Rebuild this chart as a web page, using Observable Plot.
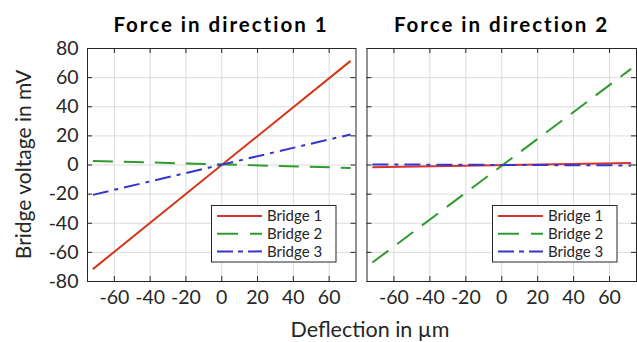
<!DOCTYPE html>
<html>
<head>
<meta charset="utf-8">
<script src="https://cdn.jsdelivr.net/npm/d3@7"></script>
<script src="https://cdn.jsdelivr.net/npm/@observablehq/plot@0.6"></script>
<style>
  html, body { margin: 0; padding: 0; background: #fff; }
  #wrap { position: relative; width: 637px; height: 342px; overflow: hidden; font-family: Lato, sans-serif; }
  #wrap > svg, #wrap > figure { position: absolute; top: 0; }
</style>
</head>
<body>
<div id="wrap"></div>
<script>
// ---- data ----
const seriesNames = ["Bridge 1", "Bridge 2", "Bridge 3"];
const panelTitles = ["Force in direction 1", "Force in direction 2"];
const deflection = [-72, 72];               // µm
// direction 1
const d1Bridge1 = [-71.5, 71.5];
const d1Bridge2 = [2.8, -2];
const d1Bridge3 = [-20.5, 21];
// direction 2
const d2Bridge1 = [-1.5, 1.3];
const d2Bridge2 = [-67, 66];
const d2Bridge3 = [0.4, -0.3];
const xTicks = [-60, -40, -20, 0, 20, 40, 60];
const yTicks = [-80, -60, -40, -20, 0, 20, 40, 60, 80];
const xLabel = "Deflection in µm";
const yLabel = "Bridge voltage in mV";

// ---- styles ----
const colors = ["#d4361c", "#2f9a2f", "#3535cc"];
const legendColors = ["#d63333", "#2f9a2f", "#3535cc"];
const dashes = [null, "20,11", "16,6,4,6"];
const ink = "#262626";

function rows(vals) {
  return vals.map((v, s) => deflection.map((x, i) => ({series: seriesNames[s], x, y: v[i]})));
}

const H = 342, mTop = 48, mBottom = 61;
const plotH = H - mTop - mBottom;

function panel({vals, width, marginLeft, marginRight, showY, lineColors}) {
  const W = width - marginLeft - marginRight;
  const data = rows(vals);
  const marks = [
    Plot.gridX(xTicks, {stroke: "#dcdcdc", strokeOpacity: 1}),
    Plot.gridY(yTicks, {stroke: "#dcdcdc", strokeOpacity: 1}),
    ...data.map((d, s) => Plot.line(d, {x: "x", y: "y", stroke: lineColors[s], strokeWidth: 2,
      strokeDasharray: dashes[s] ?? undefined, strokeLinecap: "butt"})),
    Plot.ruleX(xTicks, {stroke: ink, insetTop: plotH - 5}),
    Plot.ruleX(xTicks, {stroke: ink, insetBottom: plotH - 5}),
    Plot.ruleY(yTicks, {stroke: ink, insetRight: W - 5}),
    Plot.ruleY(yTicks, {stroke: ink, insetLeft: W - 5}),
    Plot.axisX(xTicks, {tickSize: 0, tickPadding: 9, tickFormat: d => String(d), label: null, fontSize: 19.5, fill: ink}),
    Plot.frame({stroke: ink, strokeWidth: 1})
  ];
  if (showY) marks.push(Plot.axisY(yTicks, {tickSize: 0, tickPadding: 9, tickFormat: d => String(d), label: null, fontSize: 19.5, fill: ink}));
  return Plot.plot({
    width, height: H, marginLeft, marginRight, marginTop: mTop, marginBottom: mBottom,
    x: {domain: [-75, 75], axis: null},
    y: {domain: [-80, 80], axis: null},
    style: {fontFamily: "Lato, sans-serif", color: ink, background: "transparent", overflow: "visible"},
    marks
  });
}

const wrap = document.getElementById("wrap");
const p1 = panel({vals: [d1Bridge1, d1Bridge2, d1Bridge3], width: 360, marginLeft: 87, marginRight: 4.5, showY: true, lineColors: colors});
p1.style.left = "0px";
wrap.appendChild(p1);
const p2 = panel({vals: [d2Bridge1, d2Bridge2, d2Bridge3], width: 297, marginLeft: 26.5, marginRight: 1, showY: false, lineColors: legendColors});
p2.style.left = "340px";
wrap.appendChild(p2);

// ---- overlay: titles, axis labels, legends ----
const ov = d3.select(wrap).append("svg")
  .attr("width", 637).attr("height", 342)
  .style("left", "0px").style("font-family", "Lato, sans-serif");

[221, 501.5].forEach((cx, i) => {
  ov.append("text").attr("x", cx).attr("y", 31.5).attr("text-anchor", "middle")
    .attr("font-size", 20.5).attr("font-weight", "bold").attr("letter-spacing", "2px")
    .attr("fill", "#000").text(panelTitles[i]);
});
ov.append("text").attr("transform", "translate(31,164.5) rotate(-90)").attr("text-anchor", "middle")
  .attr("font-size", 21).attr("fill", ink).text(yLabel);
ov.append("text").attr("x", 370).attr("y", 336.5).attr("text-anchor", "middle")
  .attr("font-size", 21.5).attr("fill", ink).text(xLabel);

[211.5, 492.5].forEach(lx => {
  const g = ov.append("g").attr("transform", `translate(${lx},205.5)`);
  g.append("rect").attr("width", 124.5).attr("height", 56.5).attr("fill", "#fff").attr("stroke", ink);
  seriesNames.forEach((name, s) => {
    const y = 10.5 + s * 17.7;
    g.append("line").attr("x1", 5.5).attr("x2", 50.5).attr("y1", y).attr("y2", y)
      .attr("stroke", legendColors[s]).attr("stroke-width", 2)
      .attr("stroke-dasharray", dashes[s] ? (s === 1 ? "21,12" : "16,5,5,5") : null);
    g.append("text").attr("x", 55.5).attr("y", y).attr("dy", "0.35em")
      .attr("font-size", 15).attr("fill", ink).text(name);
  });
});
</script>
</body>
</html>
